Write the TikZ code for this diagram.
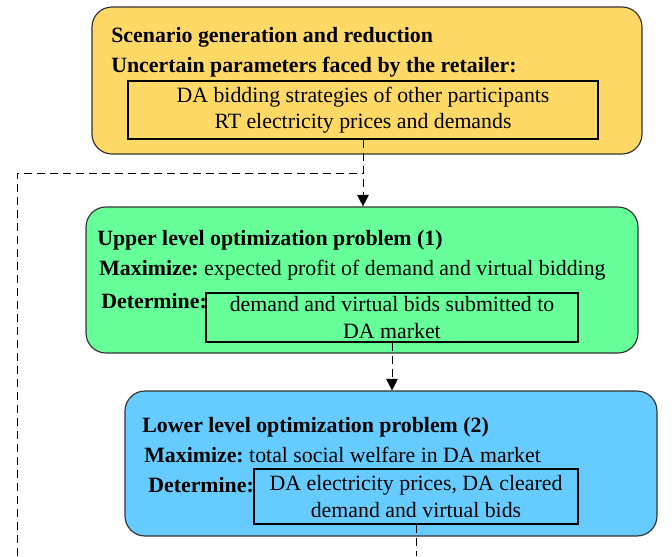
\documentclass[tikz,border=0pt]{standalone}
\usepackage{fontspec}
\setmainfont{Liberation Serif}[Ligatures=TeX]
\usepackage{tikz}
\usetikzlibrary{arrows.meta}

\definecolor{scenyellow}{RGB}{255,217,102}
\definecolor{uppergreen}{RGB}{102,255,153}
\definecolor{lowerblue}{RGB}{102,204,255}

\tikzset{
  stage/.style={draw=black!80,line width=0.7pt,rounded corners=12pt,inner sep=0pt},
  resultbox/.style={draw,line width=0.8pt,inner sep=0pt,align=center},
  label/.style={anchor=base west,inner sep=0pt},
  flow/.style={line width=0.6pt,dash pattern=on 4.8pt off 3pt}
}

\begin{document}
\begin{tikzpicture}[x=0.6pt,y=-0.6pt,>={Triangle[length=7pt,width=7pt]},
  font=\rmfamily\frenchspacing\fontsize{13.1}{16}\selectfont]
  \useasboundingbox (0,0) rectangle (672,556);
  % scenario block
  \node[stage,fill=scenyellow,minimum width=330pt,minimum height=88.2pt] (scen) at (367,80.5) {};
  \node[label] (scenhead) at (111,42) {\textbf{Scenario generation and reduction}};
  \node[label] (scenunc) at (111,72) {\textbf{Uncertain parameters faced by the retailer:}};
  \node[resultbox,minimum width=282pt,minimum height=34.8pt] (scenbox) at (363,110)
    {DA bidding strategies of other participants\\RT electricity prices and demands};
  % upper level
  \node[stage,fill=uppergreen,minimum width=331.2pt,minimum height=87.6pt] (upper) at (362,280) {};
  \node[label] (upperhead) at (97,245) {\textbf{Upper level optimization problem (1)}};
  \node[label] (uppermax) at (99,275) {\textbf{Maximize:} expected profit of demand and virtual bidding};
  \node[label] (upperdet) at (101,308) {\textbf{Determine:}};
  \node[resultbox,minimum width=223.2pt,minimum height=29.4pt] (upperbox) at (392,317.5)
    {demand and virtual bids submitted to\\DA market};
  % lower level
  \node[stage,fill=lowerblue,minimum width=319.2pt,minimum height=87pt] (lower) at (391,463.5) {};
  \node[label] (lowerhead) at (142,432) {\textbf{Lower level optimization problem (2)}};
  \node[label] (lowermax) at (144,462) {\textbf{Maximize:} total social welfare in DA market};
  \node[label] (lowerdet) at (148,492) {\textbf{Determine:}};
  \node[resultbox,minimum width=194.4pt,minimum height=33pt] (lowerbox) at (416,496.5)
    {DA electricity prices, DA cleared\\demand and virtual bids};
  % connections
  \coordinate (lowend) at (416,556);
  \coordinate (fbfoot) at (17,556);
  \coordinate (fbcorner) at (17,173);
  \draw[flow,->] (scenbox.south) -- (scenbox.south |- upper.north);
  \draw[flow,->] (upperbox.south) -- (upperbox.south |- lower.north);
  \draw[flow] (lowerbox.south) -- (lowend);
  \draw[flow] (fbfoot) -- (fbcorner) -- (fbcorner -| scenbox.south);
\end{tikzpicture}
\end{document}
